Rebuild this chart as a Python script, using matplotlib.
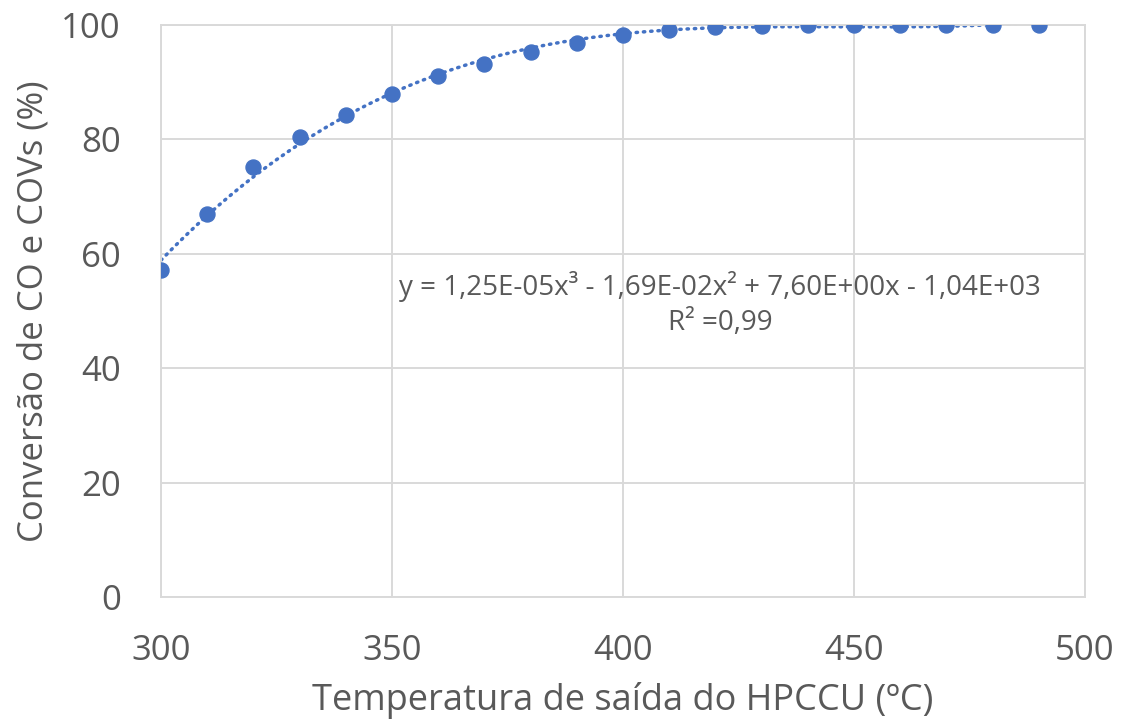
import matplotlib

matplotlib.use("Agg")
import matplotlib.pyplot as plt  # noqa: E402
import numpy as np  # noqa: E402

# Outlet temperature of the HPCCU (ºC) vs. CO + VOC conversion (%)
temperature = [300, 310, 320, 330, 340, 350, 360, 370, 380, 390,
               400, 410, 420, 430, 440, 450, 460, 470, 480, 490]
conversion = [57.2, 67.0, 75.1, 80.5, 84.2, 87.9, 91.0, 93.2, 95.2, 96.9,
              98.3, 99.2, 99.7, 99.9, 100.0, 100.0, 100.0, 100.0, 100.0, 100.0]

x_ticks = [300, 350, 400, 450, 500]
y_ticks = [0, 20, 40, 60, 80, 100]

equation = "y = 1,25E-05x³ - 1,69E-02x² + 7,60E+00x - 1,04E+03"
r_squared = "R² =0,99"

BLUE = "#4472C4"
GRID = "#D9D9D9"
TEXT = "#595959"

plt.rcParams["font.family"] = ["Open Sans", "DejaVu Sans"]

fig = plt.figure(figsize=(11.26, 7.28), dpi=100)
ax = fig.add_axes([0.143, 0.18, 0.8206, 0.7857])

# cubic trendline fitted to the measured points
coef = np.polyfit(temperature, conversion, 3)
xs = np.linspace(min(temperature), max(temperature), 300)
ax.plot(xs, np.polyval(coef, xs), color=BLUE, lw=2.5,
        linestyle=(0, (0.4, 1.7)), dash_capstyle="round", zorder=2)
ax.plot(temperature, conversion, "o", color=BLUE, ms=10.8, zorder=3)

ax.set_xlim(300, 500)
ax.set_ylim(0, 100)
ax.set_xticks(x_ticks)
ax.set_yticks(y_ticks)
ax.grid(True, color=GRID, lw=1.4)
ax.set_axisbelow(True)
for s in ax.spines.values():
    s.set_color(GRID)
    s.set_linewidth(1.4)
ax.tick_params(length=0, labelsize=25, colors=TEXT)
ax.tick_params(axis="y", pad=29)
ax.tick_params(axis="x", pad=27)

ax.set_xlabel("Temperatura de saída do HPCCU (ºC)", fontsize=26, color=TEXT,
              labelpad=10)
ax.set_ylabel("Conversão de CO e COVs (%)", fontsize=25, color=TEXT,
              labelpad=8)

ax.text(421, 54.2, equation, fontsize=20, color=TEXT, ha="center",
        va="center")
ax.text(421, 47.9, r_squared, fontsize=20, color=TEXT, ha="center",
        va="center")

fig.savefig("out.png", dpi=100)
